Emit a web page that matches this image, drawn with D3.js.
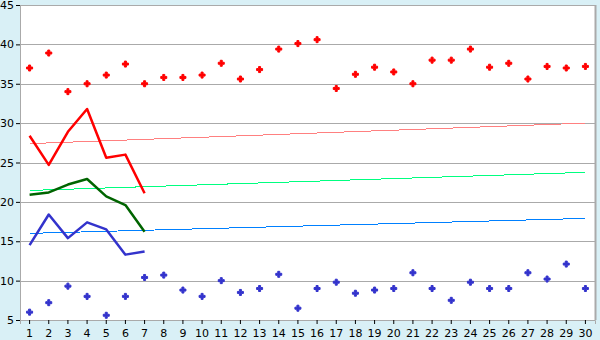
<!DOCTYPE html>
<html>
<head>
<meta charset="utf-8">
<script src="https://cdn.jsdelivr.net/npm/d3@7"></script>
<style>
  body { margin: 0; background: #d9f0f6; }
  svg { display: block; }
  text { font-family: 'DejaVu Sans', Verdana, sans-serif; font-size: 11px; fill: #000; }
</style>
</head>
<body>
<svg></svg>
<script>
// chart data
const days = d3.range(1, 31)
const yTicks = [5, 10, 15, 20, 25, 30, 35, 40, 45]

const maxPoints = [37.0, 38.9, 34.0, 35.0, 36.1, 37.5, 35.0, 35.8, 35.8, 36.1,
                   37.6, 35.6, 36.8, 39.4, 40.1, 40.6, 34.4, 36.2, 37.1, 36.5,
                   35.0, 38.0, 38.0, 39.4, 37.1, 37.6, 35.6, 37.2, 37.0, 37.2]
const minPoints = [6.0, 7.2, 9.3, 8.0, 5.6, 8.0, 10.4, 10.7, 8.8, 8.0,
                   10.0, 8.5, 9.0, 10.8, 6.5, 9.0, 9.8, 8.4, 8.8, 9.0,
                   11.0, 9.0, 7.5, 9.8, 9.0, 9.0, 11.0, 10.2, 12.1, 9.0]

const redLine = [28.4, 24.7, 28.9, 31.8, 25.6, 26.0, 21.1]
const greenLine = [20.9, 21.2, 22.2, 22.9, 20.7, 19.6, 16.2]
const blueLine = [14.5, 18.4, 15.4, 17.4, 16.5, 13.3, 13.7]

// trend lines, value at day 1 and day 30
const redTrend = [27.4, 30.0]
const greenTrend = [21.45, 23.75]
const blueTrend = [16.0, 17.9]

const width = 600
const height = 340
const margin = {top: 5, right: 5, bottom: 20, left: 20}

const svg = d3.select('svg')
    .attr('width', width)
    .attr('height', height)

const xScale = d3.scaleBand()
    .domain(days)
    .range([margin.left, width - margin.right])
const xPos = (d) => xScale(d) + xScale.bandwidth() / 2

const yScale = d3.scaleLinear()
    .domain([5, 45])
    .range([height - margin.bottom, margin.top])

// plot background
svg.append('rect')
    .attr('x', margin.left)
    .attr('y', margin.top)
    .attr('width', width - margin.left - margin.right)
    .attr('height', height - margin.top - margin.bottom)
    .attr('fill', '#fff')

// gridlines
svg.append('g')
    .selectAll('line')
    .data(yTicks)
    .enter()
    .append('line')
    .attr('x1', margin.left)
    .attr('x2', width - margin.right)
    .attr('y1', (d) => Math.round(yScale(d)) + 0.5)
    .attr('y2', (d) => Math.round(yScale(d)) + 0.5)
    .attr('stroke', '#aaa')

// right border
svg.append('line')
    .attr('x1', width - margin.right + 0.5)
    .attr('x2', width - margin.right + 0.5)
    .attr('y1', margin.top)
    .attr('y2', height - margin.bottom)
    .attr('stroke', '#aaa')
    .attr('stroke-width', 2)

// axes
const xAxis = d3.axisBottom(xScale).tickSize(4).tickPadding(5)
const yAxis = d3.axisLeft(yScale).tickValues(yTicks).tickSize(4).tickPadding(2)

const gx = svg.append('g')
    .attr('transform', 'translate(0,' + (height - margin.bottom) + ')')
    .call(xAxis)
gx.select('.domain').attr('stroke', '#aaa')
gx.selectAll('.tick line').attr('stroke', '#000')

const gy = svg.append('g')
    .attr('transform', 'translate(' + margin.left + ',0)')
    .call(yAxis)
gy.select('.domain').attr('stroke', '#aaa')
gy.selectAll('.tick line').attr('stroke', '#000')
svg.selectAll('.tick text').style('font-size', '11px').style('font-family', "'DejaVu Sans', Verdana, sans-serif")

// trend lines
const drawTrend = (vals, color) => {
    svg.append('line')
        .attr('x1', xPos(days[0]))
        .attr('x2', xPos(days[days.length - 1]))
        .attr('y1', yScale(vals[0]))
        .attr('y2', yScale(vals[1]))
        .attr('stroke', color)
        .attr('stroke-width', 1)
        .attr('shape-rendering', 'crispEdges')
}
drawTrend(redTrend, '#ff8080')
drawTrend(greenTrend, '#00ff80')
drawTrend(blueTrend, '#0080ff')

// data lines
const line = d3.line()
    .x((d, i) => xPos(days[i]))
    .y((d) => yScale(d))

const drawLine = (vals, color) => {
    svg.append('path')
        .datum(vals)
        .attr('d', line)
        .attr('fill', 'none')
        .attr('stroke', color)
        .attr('stroke-width', 2.5)
        .attr('stroke-linejoin', 'round')
}
drawLine(redLine, '#ff0000')
drawLine(greenLine, '#006400')
drawLine(blueLine, '#3333cc')

// points
const symbol = d3.symbol().type(d3.symbolCross).size(20)
const drawPoints = (vals, color) => {
    svg.append('g')
        .selectAll('path')
        .data(vals)
        .enter()
        .append('path')
        .attr('d', symbol)
        .attr('transform', (d, i) => 'translate(' + xPos(days[i]) + ',' + yScale(d) + ')')
        .attr('fill', color)
        .attr('stroke', color)
        .attr('stroke-width', 1)
        .attr('stroke-linejoin', 'round')
}
drawPoints(maxPoints, '#ff0000')
drawPoints(minPoints, '#3333cc')
</script>
</body>
</html>
